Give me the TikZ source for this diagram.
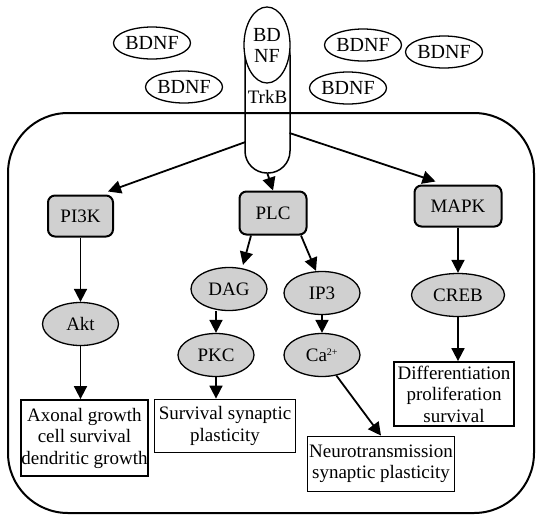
\documentclass[tikz,border=0pt]{standalone}
\usepackage{fontspec}
\setmainfont{Liberation Serif}
\usetikzlibrary{arrows.meta, shapes.geometric, calc}
\definecolor{Cfill}{RGB}{208,208,208}

\tikzset{
    kinase/.style={draw, line width=2pt, rounded corners=7pt, fill=Cfill, inner sep=0pt},
    messenger/.style={ellipse, draw, line width=1.3pt, fill=Cfill, inner sep=0pt,
        minimum width=76pt, minimum height=43pt},
    ligand/.style={ellipse, draw, line width=1.3pt, inner sep=0pt,
        minimum width=77pt, minimum height=32pt, font=\fontsize{20}{22}\selectfont},
    outcome/.style={draw, line width=1.8pt, inner sep=0pt, align=center},
    arr/.style={line width=1.8pt, -{Triangle[length=13pt, width=13pt]}},
}

\begin{document}
\begin{tikzpicture}[x=1pt, y=-1pt, font=\fontsize{19}{21.5}\selectfont]
    \useasboundingbox (0,0) rectangle (536,515);

    %% --- Cell ---
    \draw[line width=2pt, rounded corners=60pt] (8,113) rectangle (534,513);

    %% --- Receptor ---
    \node[draw, line width=1.5pt, rounded corners=22pt, minimum width=45pt,
        minimum height=140pt, inner sep=0pt] (trkb) at (267.5,103) {};
    \node[ellipse, draw, line width=1.3pt, fill=white, minimum width=46pt,
        minimum height=76pt, inner sep=0pt, align=center,
        font=\fontsize{20}{21}\selectfont] (bdnf0) at (267,45) {BD\\NF};
    \node (trkblbl) at (267.5,97) {TrkB};

    %% --- Free ligands ---
    \node[ligand] (bdnf1) at (152,43) {BDNF};
    \node[ligand] (bdnf2) at (184,87) {BDNF};
    \node[ligand] (bdnf3) at (363,45) {BDNF};
    \node[ligand] (bdnf4) at (348,88) {BDNF};
    \node[ligand] (bdnf5) at (444,52) {BDNF};

    %% --- Kinases ---
    \node[kinase, minimum width=65pt, minimum height=41pt] (pi3k) at (80.5,216) {PI3K};
    \node[kinase, minimum width=67pt, minimum height=43pt] (plc) at (273,213) {PLC};
    \node[kinase, minimum width=87pt, minimum height=41pt] (mapk) at (458,206) {MAPK};

    %% --- Messengers ---
    \node[messenger] (akt) at (80.5,324) {Akt};
    \node[messenger] (dag) at (229,289) {DAG};
    \node[messenger] (ip3) at (322,293) {IP3};
    \node[messenger, minimum width=93pt] (creb) at (458,295) {CREB};
    \node[messenger] (pkc) at (216,355) {PKC};
    \node[messenger] (ca) at (322,355) {Ca\textsuperscript{\fontsize{10}{10}\selectfont 2+}};

    %% --- Outcomes ---
    \node[outcome, minimum width=127pt, minimum height=76pt] (axon) at (84.5,438)
        {Axonal growth\\cell survival\\dendritic growth};
    \node[outcome, minimum width=141pt, minimum height=53pt] (surv) at (225,426)
        {Survival synaptic\\plasticity};
    \node[outcome, minimum width=147pt, minimum height=55pt] (neuro) at (381,464)
        {Neurotransmission\\synaptic plasticity};
    \node[outcome, minimum width=120pt, minimum height=64pt] (diff) at (454,394)
        {Differentiation\\proliferation\\survival};

    %% --- Arrows ---
    \coordinate (tl) at (245.5,142);
    \coordinate (tr) at (289.5,133);
    \draw[arr] (tl) -- ([xshift=-6pt, yshift=3pt]pi3k.north east);
    \draw[arr] (trkb.south) -- (plc.north);
    \draw[arr] (tr) -- ([xshift=22pt, yshift=3pt]mapk.north west);

    \draw[arr] (pi3k) -- (akt);
    \draw[arr] (akt.south) -- (akt.south |- axon.north);

    \draw[arr] ([xshift=-22pt]plc.south) -- ([xshift=14pt, yshift=2pt]dag.north);
    \draw[arr] ([xshift=28pt]plc.south) -- ([xshift=-6pt]ip3.north);
    \draw[arr] (pkc.north |- dag.south) -- (pkc.north);
    \draw[arr] (ip3) -- (ca);
    \draw[arr] (pkc.south) -- (pkc.south |- surv.north);
    \draw[arr] (ca.-55) -- (neuro.north);

    \draw[arr] (mapk) -- (creb);
    \draw[arr] (creb.south) -- (creb.south |- diff.north);

\end{tikzpicture}
\end{document}
